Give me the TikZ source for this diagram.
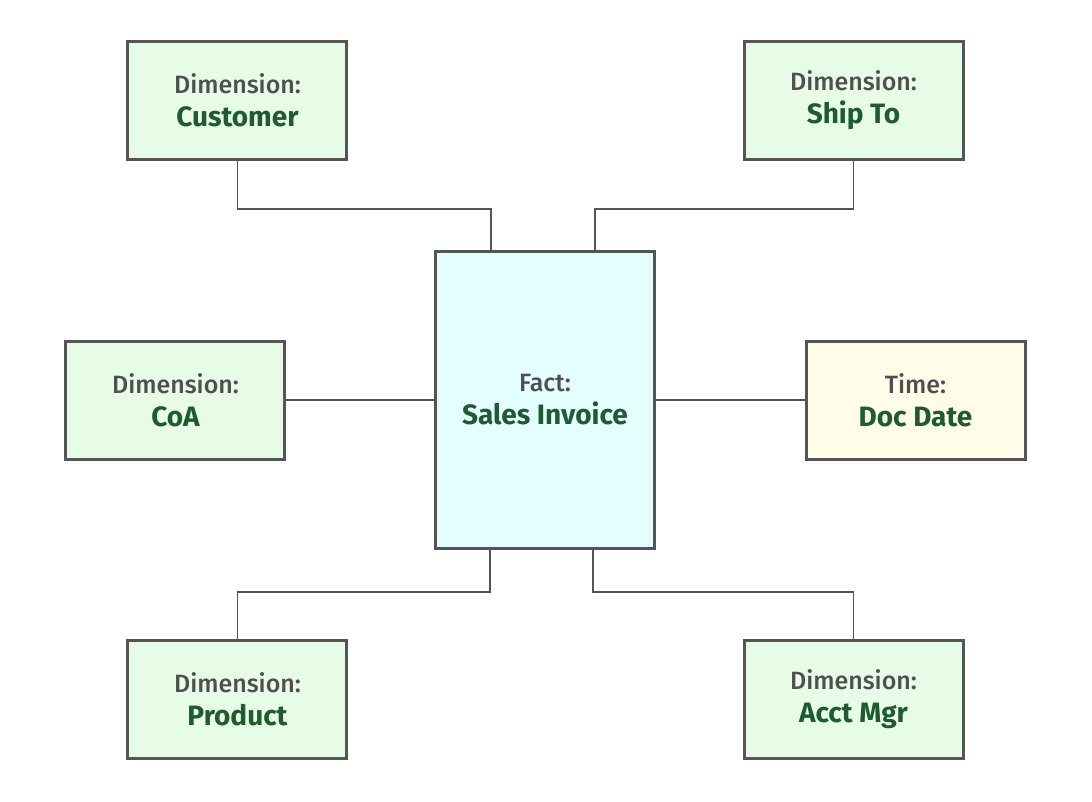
\documentclass[tikz,border=0pt]{standalone}
\usepackage{fontspec}
\setmainfont{Fira Sans}
\newfontfamily\labfont{Fira Sans Medium}
\newfontfamily\titlefont{Fira Sans Bold}
\usetikzlibrary{positioning}

\definecolor{edgegray}{HTML}{555555}
\definecolor{labgray}{HTML}{4F4F4F}
\definecolor{titlegreen}{HTML}{1F5A30}
\definecolor{dimfill}{HTML}{E6FCE6}
\definecolor{factfill}{HTML}{E3FFFF}
\definecolor{timefill}{HTML}{FFFDE8}

\newcommand{\boxtext}[2]{{\labfont\color{labgray}#1}\\{\titlefont\color{titlegreen}\fontsize{28pt}{33pt}\selectfont #2}}

\begin{document}
\begin{tikzpicture}[
    node distance=90pt and 87pt,
    block/.style={rectangle, draw=edgegray, line width=3pt, minimum width=219pt, minimum height=118pt, align=center, font=\fontsize{25pt}{33pt}\selectfont, inner sep=0pt},
    dim/.style={block, fill=dimfill},
    link/.style={draw=edgegray, line width=1.5pt}
]
\useasboundingbox (-545pt,-401pt) rectangle (547pt,400pt);

\node[block, fill=factfill, minimum width=218pt, minimum height=297pt] (fact) at (0,0) {\boxtext{Fact:}{Sales Invoice}};
\node[dim, above left=89pt and 86pt of fact] (cust) {\boxtext{Dimension:}{Customer}};
\node[dim, above right=89pt and 87pt of fact] (ship) {\boxtext{Dimension:}{Ship To}};
\node[dim, left=148pt of fact] (coa) {\boxtext{Dimension:}{CoA}};
\node[block, fill=timefill, right=149pt of fact] (time) {\boxtext{Time:}{Doc Date}};
\node[dim, below left=89pt and 86pt of fact] (prod) {\boxtext{Dimension:}{Product}};
\node[dim, below right=89pt and 87pt of fact] (mgr) {\boxtext{Dimension:}{Acct Mgr}};

% connectors
\draw[link] (cust.south) -- ++(0,-48pt) -| ([xshift=-54pt]fact.north);
\draw[link] (ship.south) -- ++(0,-48pt) -| ([xshift=50pt]fact.north);
\draw[link] (coa.east) -- (fact.west);
\draw[link] (fact.east) -- (time.west);
\draw[link] ([xshift=-55pt]fact.south) -- ++(0,-42pt) -| (prod.north);
\draw[link] ([xshift=48pt]fact.south) -- ++(0,-42pt) -| (mgr.north);
\end{tikzpicture}
\end{document}
